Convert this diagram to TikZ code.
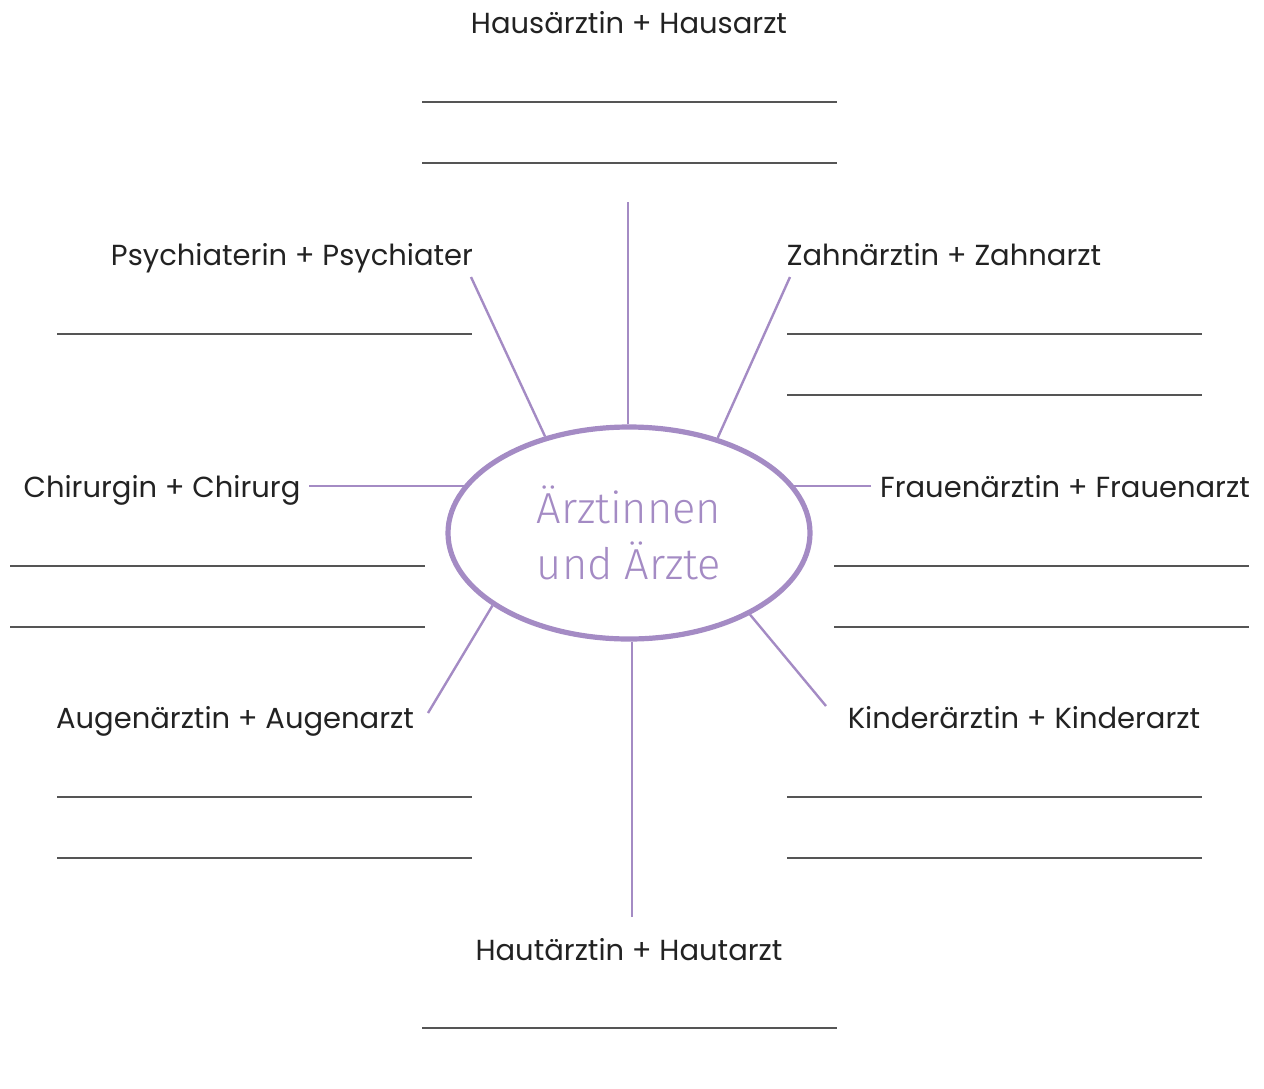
\documentclass[tikz,border=0pt]{standalone}
\usepackage{fontspec}
\setmainfont{Poppins}
\newfontfamily\titlefont{Fira Sans Light}
\usepackage{tikz}
\usetikzlibrary{positioning}
\usetikzlibrary{shapes.geometric}
\definecolor{lila}{HTML}{A48BC4}
\definecolor{schrift}{HTML}{222222}
\definecolor{linie}{HTML}{555555}
\tikzstyle{mitte} = [ellipse, draw=lila, line width=2.6pt, minimum width=181pt, minimum height=106pt, inner sep=0pt, align=center, text=lila, font=\titlefont\fontsize{21.7}{28}\selectfont]
\tikzstyle{fach} = [anchor=base, inner sep=0pt, text=schrift, font=\fontsize{14.5}{17}\selectfont]
\tikzstyle{ast} = [lila, line width=1.2pt]
\tikzstyle{zeile} = [linie, line width=0.7pt]

\begin{document}
\begin{tikzpicture}[x=0.5pt,y=-0.5pt]
    \useasboundingbox (0,0) rectangle (1264,1088);
    \node (Aerzte) [mitte] at (629,533) {Ärztinnen\\und Ärzte};
    \node (Haus) [fach] at (629,33) {Hausärztin + Hausarzt};
    \node (Psych) [fach] at (292,265) {Psychiaterin + Psychiater};
    \node (Zahn) [fach] at (944,265) {Zahnärztin + Zahnarzt};
    \node (Chir) [fach] at (162,497) {Chirurgin + Chirurg};
    \node (Frauen) [fach] at (1065,497) {Frauenärztin + Frauenarzt};
    \node (Augen) [fach] at (235,728) {Augenärztin + Augenarzt};
    \node (Kinder) [fach] at (1024,728) {Kinderärztin + Kinderarzt};
    \node (Haut) [fach] at (629,960) {Hautärztin + Hautarzt};
    \coordinate (HausA) at (628,202);
    \coordinate (PsychA) at (471,277);
    \coordinate (ZahnA) at (790,277);
    \coordinate (ChirA) at (309,486);
    \coordinate (FrauenA) at (871,486);
    \coordinate (AugenA) at (428,713);
    \coordinate (KinderA) at (826,706);
    \coordinate (HautA) at (632,917);
    \draw[ast] (HausA) -- (HausA |- Aerzte.north);
    \draw[ast] (PsychA) -- (Aerzte.131.5);
    \draw[ast] (ZahnA) -- (Aerzte.47.2);
    \draw[ast] (ChirA) -- (ChirA -| Aerzte.164);
    \draw[ast] (FrauenA) -- (FrauenA -| Aerzte.16);
    \draw[ast] (AugenA) -- (Aerzte.208.4);
    \draw[ast] (KinderA) -- (Aerzte.326.8);
    \draw[ast] (HautA) -- (HautA |- Aerzte.south);
    \foreach \x/\y in {422/102,422/163,57/334,787/334,787/395,10/566,10/627,834/566,834/627,57/797,57/858,787/797,787/858,422/1028}
        \draw[zeile] (\x,\y) -- ++(415,0);
\end{tikzpicture}
\end{document}
